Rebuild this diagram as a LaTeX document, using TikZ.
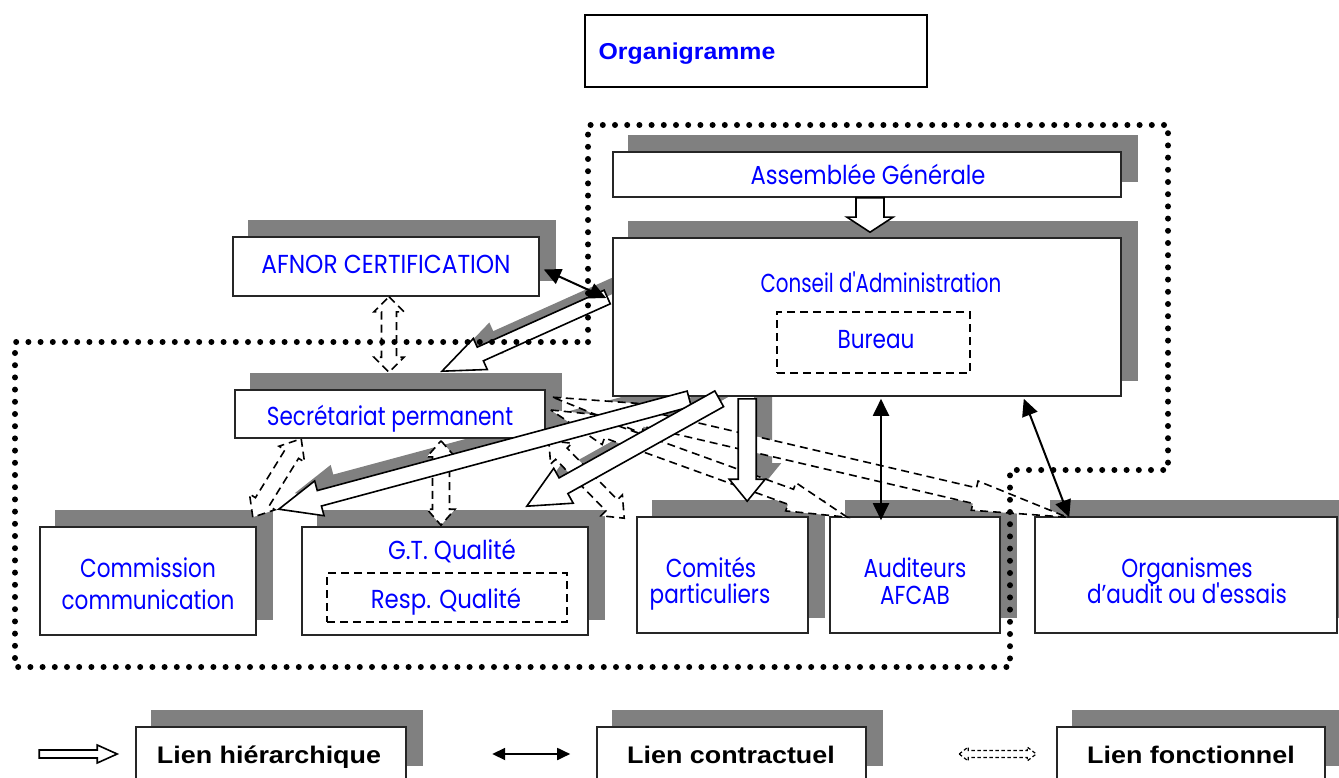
\documentclass[tikz,border=0pt]{standalone}
\usepackage{fontspec}
\setmainfont{Liberation Sans}
\newfontfamily\gfont[FakeStretch=0.83,Ligatures=TeXOff]{Poppins}
\newfontfamily\legfont[FakeStretch=1.12]{Liberation Sans}
\newfontfamily\titfont[FakeStretch=1.08]{Liberation Sans}
\usetikzlibrary{calc,fit,arrows.meta}
\pgfdeclarelayer{bshadow}
\pgfdeclarelayer{ashadow}
\pgfsetlayers{bshadow,ashadow,main}
\definecolor{shd}{RGB}{128,128,128}
\definecolor{bl}{RGB}{0,0,255}

\newcommand\boxshadow[1]{\begin{pgfonlayer}{bshadow}\fill[shd] ($(#1.south west)+(16,-16)$) rectangle ($(#1.north east)+(16,-16)$);\end{pgfonlayer}}
\newcommand\mkbox[5]{\node[box, fit={(#2,#3) (#4,#5)}] (#1) {};\boxshadow{#1}}
\newcommand\arrpts[5]{%
 \coordinate (hb) at ($(#2)!#5!(#1)$);
 \coordinate (q1) at ($(#1)!#3!90:(#2)$);
 \coordinate (q2) at ($(hb)!#3!90:(#2)$);
 \coordinate (q3) at ($(hb)!#4!90:(#2)$);
 \coordinate (q4) at (#2);
 \coordinate (q5) at ($(hb)!#4!-90:(#2)$);
 \coordinate (q6) at ($(hb)!#3!-90:(#2)$);
 \coordinate (q7) at ($(#1)!#3!-90:(#2)$);}
\newcommand\hierns[5]{\arrpts{#1}{#2}{#3}{#4}{#5}%
 \filldraw[hstyle] (q1) -- (q2) -- (q3) -- (q4) -- (q5) -- (q6) -- (q7) -- cycle;}
\newcommand\hier[5]{\arrpts{#1}{#2}{#3}{#4}{#5}%
 \begin{pgfonlayer}{ashadow}\fill[shd] ($(q1)+(16,-16)$) -- ($(q2)+(16,-16)$) -- ($(q3)+(16,-16)$) -- ($(q4)+(16,-16)$) -- ($(q5)+(16,-16)$) -- ($(q6)+(16,-16)$) -- ($(q7)+(16,-16)$) -- cycle;\end{pgfonlayer}%
 \filldraw[hstyle] (q1) -- (q2) -- (q3) -- (q4) -- (q5) -- (q6) -- (q7) -- cycle;}
\newcommand\fonc[6][]{%
 \coordinate (fa) at ($(#2)!#6!(#3)$);
 \coordinate (fb) at ($(#3)!#6!(#2)$);
 \filldraw[fstyle,#1] (#2) -- ($(fa)!#5!90:(#3)$) -- ($(fa)!#4!90:(#3)$) -- ($(fb)!#4!90:(#3)$) -- ($(fb)!#5!90:(#3)$) -- (#3) -- ($(fb)!#5!-90:(#3)$) -- ($(fb)!#4!-90:(#3)$) -- ($(fa)!#4!-90:(#3)$) -- ($(fa)!#5!-90:(#3)$) -- cycle;}

\begin{document}
\begin{tikzpicture}[x=1pt,y=-1pt,
  box/.style={draw=black!85, line width=1.6pt, fill=white, inner sep=0pt},
  dbox/.style={draw=black, line width=1.5pt, dash pattern=on 8pt off 5pt, inner sep=0pt},
  txt/.style={text=bl, font=\gfont\fontsize{26}{30}\selectfont, inner sep=0pt, anchor=base},
  ltxt/.style={font=\legfont\bfseries\fontsize{24}{28}\selectfont, inner sep=0pt, anchor=base},
  hstyle/.style={draw=black, line width=1.6pt, fill=white, line join=miter},
  fstyle/.style={draw=black, line width=1.6pt, dash pattern=on 8pt off 5pt, fill=white},
  cstyle/.style={draw=black, line width=2pt, {Triangle[length=17pt,width=16pt]}-{Triangle[length=17pt,width=16pt]}},
  dotframe/.style={draw=black, line width=6pt, line cap=round, dash pattern=on 0pt off 12.2pt}
]
\useasboundingbox (0,0) rectangle (1339,778);

% title
\node[draw=black, line width=1.6pt, fit={(585,15) (927,87)}, inner sep=0pt] (org) {};
\node[font=\titfont\bfseries\fontsize{23}{26}\selectfont, text=bl, inner sep=0pt, anchor=base] (t-org) at (687,60) {Organigramme};

% boxes
\mkbox{assem}{613}{152}{1121}{197}
\mkbox{conseil}{613}{238}{1121}{396}
\mkbox{afnor}{233}{237}{539}{296}
\mkbox{secr}{235}{390}{545}{438}
\mkbox{comm}{40}{527}{256}{635}
\mkbox{gt}{302}{527}{588}{635}
\mkbox{comites}{637}{517}{808}{633}
\mkbox{audit}{830}{517}{1000}{633}
\mkbox{orga}{1035}{517}{1337}{633}
\mkbox{leg1}{136}{727}{406}{781}
\mkbox{leg2}{597}{727}{866}{781}
\mkbox{leg3}{1057}{727}{1325}{781}
\node[dbox, fit={(777,312) (970,373)}] (bureau) {};
\node[dbox, fit={(327,573) (567,622)}] (resp) {};

% texts
\node[txt] (t-assem) at (868,185) {\scalebox{1.05}[1]{Assemblée Générale}};
\node[txt] (t-conseil) at (881,292) {\scalebox{0.92}[1]{Conseil d'Administration}};
\node[txt] (t-bureau) at (876,348) {Bureau};
\node[txt] (t-afnor) at (386,273) {\scalebox{1.08}[1]{AFNOR CERTIFICATION}};
\node[txt] (t-secr) at (390,425) {Secrétariat permanent};
\node[txt] (t-comm1) at (148,577) {Commission};
\node[txt] (t-comm2) at (148,609) {communication};
\node[txt] (t-gt) at (452,559) {\scalebox{1.06}[1]{G.T. Qualité}};
\node[txt] (t-resp) at (446,608) {\scalebox{1.06}[1]{Resp. Qualité}};
\node[txt] (t-com1) at (711,577) {Comités};
\node[txt] (t-com2) at (710,603) {particuliers};
\node[txt] (t-aud1) at (915,577) {Auditeurs};
\node[txt] (t-aud2) at (915,604) {AFCAB};
\node[txt] (t-org1) at (1187,577) {Organismes};
\node[txt] (t-org2) at (1187,603) {d’audit ou d'essais};
\node[ltxt] (t-leg1) at (269,763) {Lien hiérarchique};
\node[ltxt] (t-leg2) at (731,763) {Lien contractuel};
\node[ltxt] (t-leg3) at (1191,763) {Lien fonctionnel};

% connector end points
\coordinate (h1a) at ($(assem.south)+(3,0)$);
\coordinate (h1b) at ($(conseil.north)+(3,-5)$);
\coordinate (h2a) at ($(conseil.west)+(-5,-20)$);
\coordinate (h2b) at ($(secr.north)+(52,-18)$);
\coordinate (h3a) at ($(conseil.south west)+(77,2)$);
\coordinate (h3b) at ($(comm.north east)+(22,-17)$);
\coordinate (h4a) at ($(conseil.south west)+(107,2)$);
\coordinate (h4b) at ($(gt.north east)+(-62,-20)$);
\coordinate (h5a) at ($(conseil.south west)+(135,2)$);
\coordinate (h5b) at ($(comites.north west)+(111,-15)$);
\coordinate (c1a) at ($(afnor.east)+(4,3)$);
\coordinate (c1b) at ($(conseil.west)+(-6,-19)$);
\coordinate (c2a) at ($(conseil.south)+(14,2)$);
\coordinate (c2b) at ($(audit.north)+(-34,4)$);
\coordinate (c3a) at ($(conseil.south east)+(-98,2)$);
\coordinate (c3b) at ($(orga.north west)+(35,1)$);
\coordinate (f1a) at ($(afnor.south)+(3,0)$);
\coordinate (f1b) at ($(secr.north)+(-1,-17)$);
\coordinate (f2a) at ($(secr.south west)+(67,0)$);
\coordinate (f2b) at ($(comm.north east)+(-4,-9)$);
\coordinate (f3a) at ($(secr.south)+(51,2)$);
\coordinate (f3b) at ($(gt.north)+(-4,-1)$);
\coordinate (f4a) at ($(secr.south east)+(3,2)$);
\coordinate (f4b) at ($(comites.north west)+(-12,2)$);
\coordinate (f5a) at ($(secr.east)+(5,-4)$);
\coordinate (f5b) at ($(audit.north west)+(18,1)$);
\coordinate (f6a) at ($(secr.north east)+(7,8)$);
\coordinate (f6b) at ($(orga.north west)+(33,1)$);
\coordinate (lha) at ($(leg1.west)+(-96,0)$);
\coordinate (lhb) at ($(leg1.west)+(-18,0)$);
\coordinate (lca) at ($(leg2.west)+(-104,0)$);
\coordinate (lcb) at ($(leg2.west)+(-26,0)$);
\coordinate (lfa) at ($(leg3.west)+(-97,0)$);
\coordinate (lfb) at ($(leg3.west)+(-20,0)$);

% functional links
\fonc{f1a}{f1b}{7.5pt}{15pt}{15pt}
\fonc{f2a}{f2b}{8pt}{15pt}{18pt}
\fonc{f3a}{f3b}{8.5pt}{14pt}{16pt}
\fonc{f4a}{f4b}{8pt}{15pt}{18pt}
\fonc{f6a}{f6b}{8pt}{15pt}{95pt}
\fonc{f5a}{f5b}{8pt}{15pt}{60pt}

% hierarchical links
\hierns{h1a}{h1b}{14pt}{23pt}{15pt}
\hier{h2a}{h2b}{7.5pt}{17pt}{42pt}
\hier{h3a}{h3b}{8pt}{18pt}{42pt}
\hier{h4a}{h4b}{9pt}{20pt}{42pt}
\hier{h5a}{h5b}{9pt}{18pt}{22pt}

% contractual links
\draw[cstyle] (c1a) -- (c1b);
\draw[cstyle] (c2a) -- (c2b);
\draw[cstyle] (c3a) -- (c3b);

% legend symbols
\hierns{lha}{lhb}{4pt}{9pt}{20pt}
\draw[cstyle, line width=1.8pt, {Triangle[length=13pt,width=12pt]}-{Triangle[length=13pt,width=12pt]}] (lca) -- (lcb);
\fonc[line width=1.2pt, dash pattern=on 3.5pt off 2.5pt]{lfa}{lfb}{3.5pt}{7pt}{9pt}

% dotted frame
\draw[dotframe] (588,342) -- (588,125) -- (1168,125) -- (1168,470) -- (1010,470) -- (1010,667) -- (15,667) -- (15,342) -- cycle;
\end{tikzpicture}
\end{document}
